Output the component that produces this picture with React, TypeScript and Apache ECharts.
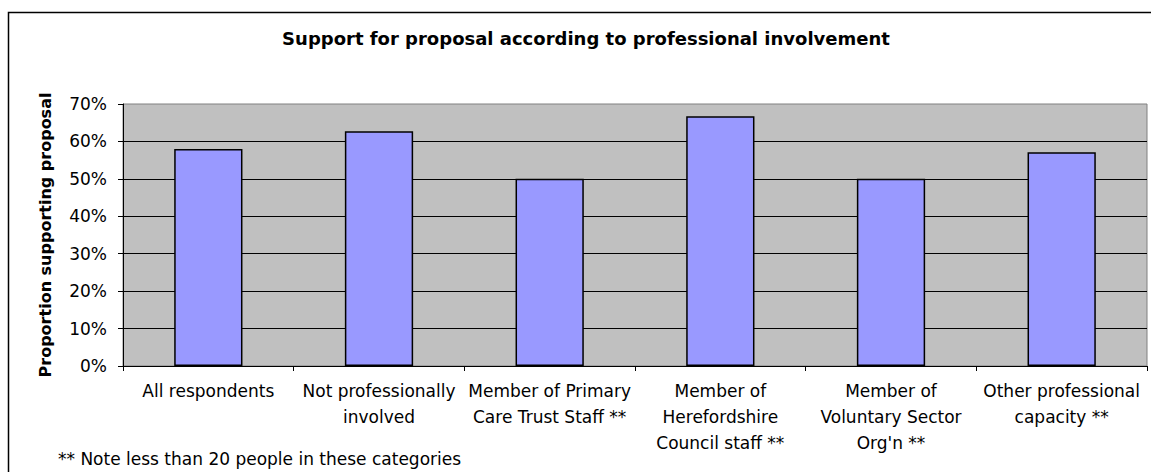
import React, { useEffect, useRef } from "react";
import * as echarts from "echarts";

const titleText = "Support for proposal according to professional involvement";
const yAxisName = "Proportion supporting proposal";
const footnote = "** Note less than 20 people in these categories";
const categories = [
  "All respondents",
  "Not professionally\ninvolved",
  "Member of Primary\nCare Trust Staff **",
  "Member of\nHerefordshire\nCouncil staff **",
  "Member of\nVoluntary Sector\nOrg'n **",
  "Other professional\ncapacity **",
];
const supportValues = [0.58, 0.627, 0.5, 0.667, 0.5, 0.571];
const yMin = 0;
const yMax = 0.7;
const yInterval = 0.1;

const FONT = "DejaVu Sans";

export default function App() {
  const ref = useRef<HTMLDivElement>(null);
  useEffect(() => {
    if (!ref.current) return;
    const chart = echarts.init(ref.current, null, { renderer: "svg" });
    chart.setOption({
      animation: false,
      backgroundColor: "#ffffff",
      textStyle: { fontFamily: FONT },
      grid: {
        left: 123,
        right: 4,
        top: 104,
        bottom: 106,
        show: true,
        backgroundColor: "#C0C0C0",
        borderColor: "#808080",
        borderWidth: 1,
      },
      xAxis: {
        type: "category",
        data: categories,
        axisLine: { show: true, lineStyle: { color: "#000", width: 1 } },
        axisTick: { show: true, length: 5, lineStyle: { color: "#000" } },
        axisLabel: {
          interval: 0,
          color: "#000",
          fontFamily: FONT,
          fontSize: 17,
          lineHeight: 26,
          margin: 12,
        },
        splitLine: { show: false },
      },
      yAxis: {
        type: "value",
        min: yMin,
        max: yMax,
        interval: yInterval,
        name: yAxisName,
        nameLocation: "middle",
        nameGap: 70,
        nameTextStyle: {
          color: "#000",
          fontFamily: FONT,
          fontSize: 16,
          fontWeight: "bold",
        },
        axisLine: { show: true, lineStyle: { color: "#000", width: 1 } },
        axisTick: { show: true, length: 5, lineStyle: { color: "#000" } },
        axisLabel: {
          color: "#000",
          fontFamily: FONT,
          fontSize: 17,
          margin: 16,
          formatter: (v: number) => `${Math.round(v * 100)}%`,
        },
        splitLine: {
          show: true,
          showMinLine: false,
          showMaxLine: false,
          lineStyle: { color: "#000", width: 1 },
        },
      },
      series: [
        {
          type: "bar",
          data: supportValues,
          barCategoryGap: "60%",
          itemStyle: { color: "#9999FF", borderColor: "#000", borderWidth: 1.5 },
        },
      ],
      graphic: [
        {
          type: "rect",
          shape: { x: 8.5, y: 12.5, width: 1200, height: 500 },
          style: { fill: "none", stroke: "#000", lineWidth: 1.5 },
          silent: true,
        },
        {
          type: "text",
          x: 586,
          y: 38,
          style: {
            text: titleText,
            fontFamily: FONT,
            fontSize: 18,
            fontWeight: "bold",
            fill: "#000",
            align: "center",
            verticalAlign: "middle",
          },
        },
        {
          type: "text",
          x: 58,
          y: 459,
          style: {
            text: footnote,
            fontFamily: FONT,
            fontSize: 17,
            fill: "#000",
            align: "left",
            verticalAlign: "middle",
          },
        },
      ],
    });
    return () => chart.dispose();
  }, []);
  return (
    <div
      ref={ref}
      style={{ position: "absolute", left: 0, top: 0, width: 1151, height: 472 }}
    />
  );
}
